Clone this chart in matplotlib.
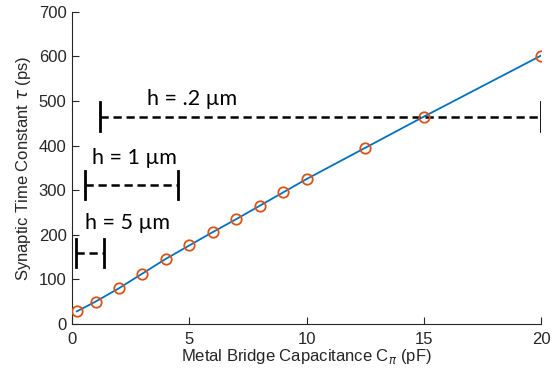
import matplotlib
matplotlib.use('Agg')
import matplotlib.pyplot as plt

# data
cap = [0.2, 1, 2, 3, 4, 5, 6, 7, 8, 9, 10, 12.5, 15, 20]
tau = [28, 50, 80, 113, 146, 176, 206, 235, 265, 295, 325, 395, 465, 602]

# range bars for each h: (label, x start, x end, y, label x, label y)
bar_labels = ['h = .2 \u00b5m', 'h = 1 \u00b5m', 'h = 5 \u00b5m']
bar_x0 = [1.2, 0.55, 0.17]
bar_x1 = [20, 4.5, 1.36]
bar_y = [465, 312, 159]
lab_x = [5.1, 2.65, 2.35]
lab_y = [505, 372, 226]

plt.rcParams['font.family'] = ['Liberation Sans', 'DejaVu Sans']
fig = plt.figure(figsize=(5.59, 3.71), dpi=100)
ax = fig.add_axes([0.129, 0.127, 0.839, 0.841])

ax.plot(cap, tau, color='#0072BD', lw=1.3, zorder=2)
ax.plot(cap, tau, 'o', mfc='none', mec='#D95319', mew=1.3, ms=7.5, zorder=3)

for lab, x0, x1, y, tx, ty in zip(bar_labels, bar_x0, bar_x1, bar_y, lab_x, lab_y):
    ax.plot([x0, x1], [y, y], '--', color='k', lw=1.8, dashes=(3.3, 1.9))
    ax.plot([x0, x0], [y - 32, y + 32], color='k', lw=2)
    ax.plot([x1, x1], [y - 32, y + 32], color='k', lw=2)
    ax.text(tx, ty, lab, ha='center', va='center', fontsize=15.5, family=['Lato', 'DejaVu Sans'])

ax.set_xlim(0, 20)
ax.set_ylim(0, 700)
ax.set_xticks([0, 5, 10, 15, 20])
ax.set_yticks(range(0, 701, 100))
ax.spines['top'].set_visible(False)
ax.spines['right'].set_visible(False)
ax.spines['left'].set_color('#262626')
ax.spines['bottom'].set_color('#262626')
ax.tick_params(direction='in', labelsize=12, colors='#262626', length=5, pad=4)
ax.tick_params(axis='x', pad=6)
ax.set_xlabel(r'Metal Bridge Capacitance C$_\pi$ (pF)', fontsize=12, color='#262626', labelpad=0)
ax.set_ylabel(r'Synaptic Time Constant $\tau$ (ps)', fontsize=12, color='#262626', labelpad=4)

fig.savefig('out.png', dpi=100)
